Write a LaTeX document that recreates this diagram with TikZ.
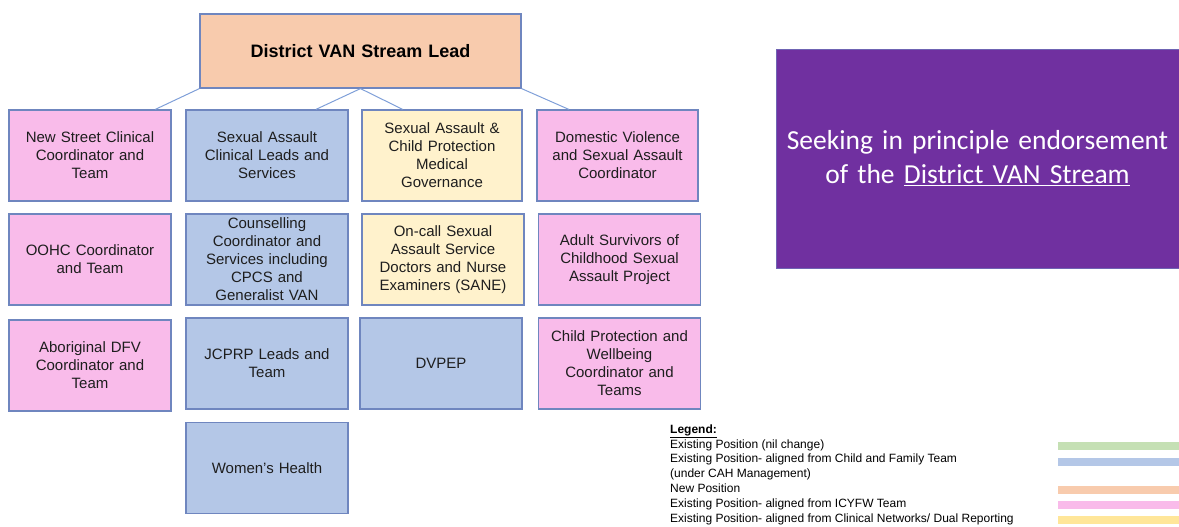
\documentclass[tikz,border=0pt]{standalone}
\usepackage{fontspec}
\setmainfont{Liberation Sans}
\newfontfamily\calibri{Carlito}
\usetikzlibrary{calc}
\definecolor{pinkfill}{HTML}{F9BBEA}
\definecolor{bluefill}{HTML}{B4C7E7}
\definecolor{yellowfill}{HTML}{FFF2CC}
\definecolor{orangefill}{HTML}{F8CBAD}
\definecolor{greenfill}{HTML}{C5E0B4}
\definecolor{goldfill}{HTML}{FFE699}
\definecolor{edge}{HTML}{6F86BF}
\definecolor{linkline}{HTML}{7F9FD8}
\definecolor{purplebox}{HTML}{7030A0}
\definecolor{bodytext}{HTML}{1E1E1E}
\tikzset{
  orgbox/.style={draw=edge, line width=1.2bp, inner sep=0pt, minimum width=162bp,
    minimum height=91bp, text width=150bp, align=center, text=bodytext,
    font=\fontsize{15bp}{18bp}\selectfont},
  icyfw/.style={orgbox, fill=pinkfill},
  cfteam/.style={orgbox, fill=bluefill},
  clinnet/.style={orgbox, fill=yellowfill},
  link/.style={draw=linkline, line width=1bp},
  swatch/.style={inner sep=0pt, minimum width=121bp, minimum height=8bp}
}
\begin{document}
\begin{tikzpicture}[x=1bp, y=-1bp]
\useasboundingbox (0,0) rectangle (1179,527);

% head of the stream
\node[orgbox, fill=orangefill, minimum width=321bp, minimum height=74bp, text width=300bp,
  text=black, font=\fontsize{18bp}{22bp}\selectfont\bfseries] (lead) at (360.5,51) {District VAN Stream Lead};

% column 1
\node[icyfw] (a1) at (90,155.5) {New Street Clinical\\Coordinator and\\Team};
\node[icyfw] (a2) at (90,259.5) {OOHC Coordinator\\and Team};
\node[icyfw] (a3) at (90,365.5) {Aboriginal DFV\\Coordinator and\\Team};

% column 2
\node[cfteam] (b1) at (267,155.5) {Sexual Assault\\Clinical Leads and\\Services};
\node[cfteam] (b2) at (267,259.5) {Counselling\\Coordinator and\\Services including\\CPCS and\\Generalist VAN};
\node[cfteam] (b3) at (267,363.5) {JCPRP Leads and\\Team};
\node[cfteam] (b4) at (267,468) {Women's Health};

% column 3
\node[clinnet, minimum width=160bp] (c1) at (442,155.5) {Sexual Assault \&\\Child Protection\\Medical\\Governance};
\node[clinnet] (c2) at (443,259.5) {On-call Sexual\\Assault Service\\Doctors and Nurse\\Examiners (SANE)};
\node[cfteam] (c3) at (441,363.5) {DVPEP};

% column 4
\node[icyfw, minimum width=161bp] (d1) at (617.5,155.5) {Domestic Violence\\and Sexual Assault\\Coordinator};
\node[icyfw] (d2) at (619.5,259.5) {Adult Survivors of\\Childhood Sexual\\Assault Project};
\node[icyfw] (d3) at (619.5,363.5) {Child Protection and\\Wellbeing\\Coordinator and\\Teams};

% reporting lines
\draw[link] (lead.south west) -- ($(a1.north west)!0.9!(a1.north east)$);
\draw[link] (lead.south) -- ($(b1.north west)!0.8!(b1.north east)$);
\draw[link] (lead.south) -- ($(c1.north west)!0.256!(c1.north east)$);
\draw[link] (lead.south east) -- ($(d1.north west)!0.2!(d1.north east)$);

% endorsement panel
\node[fill=purplebox, draw=edge!60!purplebox, inner sep=0pt, minimum width=403bp, minimum height=219bp,
  text width=390bp, align=center, text=white, font=\calibri\fontsize{27.5bp}{34bp}\selectfont]
  (ask) at (977.5,158.5) {Seeking in principle endorsement\\of the \underline{District VAN Stream}};

% legend
\node[anchor=north west, inner sep=0pt, align=left, text=black,
  font=\fontsize{12bp}{14.8bp}\selectfont] (legend) at (670,424.5)
  {\textbf{\underline{Legend:}}\\
   Existing Position (nil change)\\
   Existing Position- aligned from Child and Family Team\\
   (under CAH Management)\\
   New Position\\
   Existing Position- aligned from ICYFW Team\\
   Existing Position- aligned from Clinical Networks/ Dual Reporting};
\node[swatch, fill=greenfill] (sw1) at (1118.5,446) {};
\node[swatch, fill=bluefill] (sw2) at (1118.5,462) {};
\node[swatch, fill=orangefill] (sw3) at (1118.5,490) {};
\node[swatch, fill=pinkfill] (sw4) at (1118.5,505) {};
\node[swatch, fill=goldfill] (sw5) at (1118.5,520) {};
\end{tikzpicture}
\end{document}
